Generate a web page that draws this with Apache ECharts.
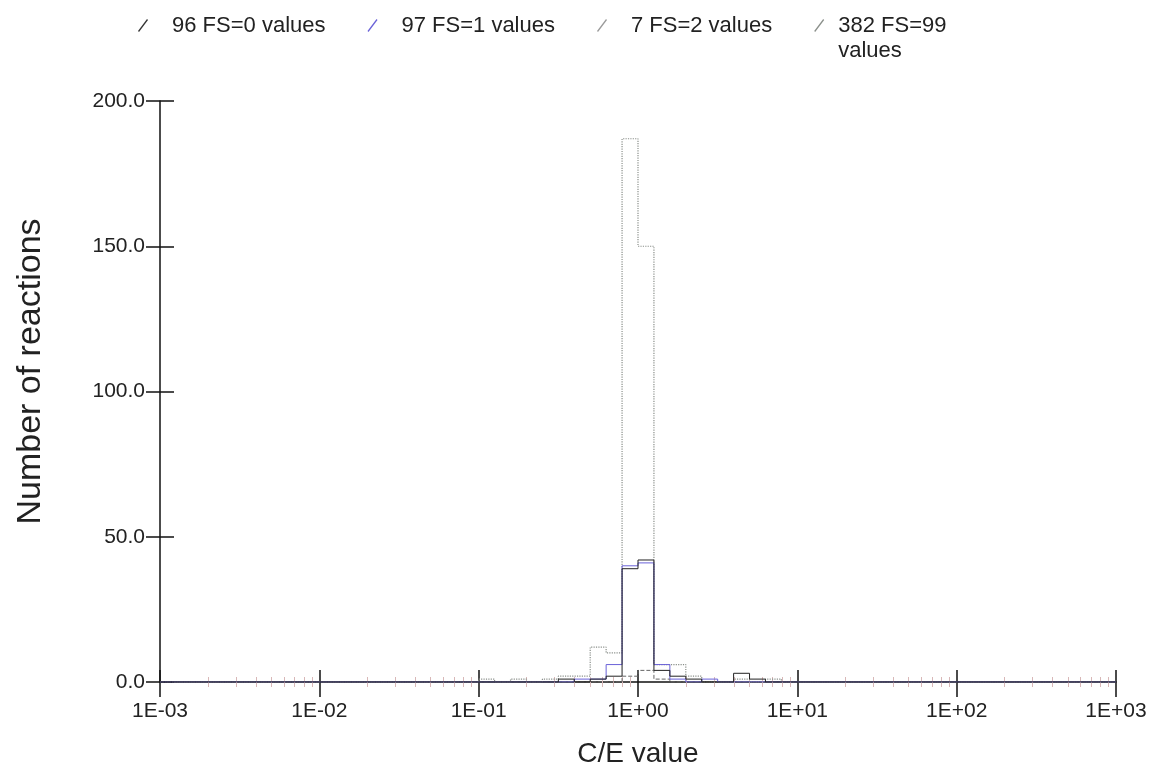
<!DOCTYPE html>
<html>
<head>
<meta charset="utf-8">
<script src="https://cdn.jsdelivr.net/npm/echarts@6/dist/echarts.min.js"></script>
<style>
  html, body { margin: 0; padding: 0; background: #fff; }
  #chart { width: 1152px; height: 776px; }
</style>
</head>
<body>
<div id="chart"></div>
<script>
// lower edge of each histogram bin, as log10(C/E)
const binStarts = [-1.0, -0.9, -0.8, -0.7, -0.6, -0.5, -0.4, -0.3, -0.2, -0.1,
                   0.0, 0.1, 0.2, 0.3, 0.4, 0.5, 0.6, 0.7, 0.8, 0.9]
const binEnd = 1.0
// counts per bin for each series
const fs0 = [0, 0, 0, 0, 0, 1, 0, 1, 2, 39, 42, 4, 2, 1, 0, 0, 3, 1, 0, 0]
const fs1 = [0, 0, 0, 0, 0, 0, 1, 1, 6, 40, 41, 6, 1, 0, 1, 0, 0, 0, 0, 0]
const fs2 = [0, 0, 0, 0, 0, 0, 0, 0, 0, 2, 4, 1, 0, 0, 0, 0, 0, 0, 0, 0]
const fs99 = [1, 0, 1, 0, 1, 2, 2, 12, 10, 187, 150, 6, 6, 2, 0, 0, 1, 0, 1, 0]
const seriesNames = ['96 FS=0 values', '97 FS=1 values', '7 FS=2 values', '382 FS=99 values']
const majorTicks = [0.001, 0.01, 0.1, 1, 10, 100, 1000]

const minorTicks = []
majorTicks.slice(0, -1).forEach(function (d) {
  for (let k = 2; k <= 9; k++) minorTicks.push(+(d * k).toPrecision(3))
})

const font = "'Liberation Sans', Arial, Helvetica, sans-serif"

// histogram counts -> step line points
function steps(counts) {
  const pts = [[0.001, 0]]
  binStarts.forEach(function (b, i) {
    pts.push([Math.pow(10, b), counts[i]])
  })
  pts.push([Math.pow(10, binEnd), 0])
  pts.push([1000, 0])
  return pts
}

function expLabel(v) {
  const e = Math.round(Math.log10(v))
  return '1E' + (e < 0 ? '-' : '+') + String(Math.abs(e)).padStart(2, '0')
}

function xAxisBase(extra) {
  return Object.assign({
    type: 'log',
    logBase: 10,
    min: 0.001,
    max: 1000,
    position: 'bottom',
    splitLine: { show: false },
    axisLine: { show: false },
    axisLabel: { show: false }
  }, extra)
}

const slash = 'path://M0,12L9,0L10,1L1,13Z'

const myChart = echarts.init(document.getElementById('chart'))
myChart.setOption({
  animation: false,
  backgroundColor: '#fff',
  textStyle: { fontFamily: font },
  legend: {
    left: 133,
    top: -17,
    icon: slash,
    itemWidth: 20,
    itemHeight: 13,
    itemGap: 42,
    textStyle: { fontSize: 22, color: '#222', fontFamily: font, lineHeight: 25, padding: [0, 0, 0, 14] },
    formatter: function (name) {
      // last entry wraps, first line level with its icon
      return name === '382 FS=99 values' ? '\n382 FS=99\nvalues' : name
    },
    data: [
      { name: seriesNames[0] },
      { name: seriesNames[1] },
      { name: seriesNames[2] },
      { name: seriesNames[3], textStyle: { padding: [0, 0, 0, 4] } }
    ]
  },
  grid: { left: 160, right: 36, top: 101, bottom: 94 },
  xAxis: [
    xAxisBase({
      name: 'C/E value',
      nameLocation: 'middle',
      nameGap: 58,
      nameTextStyle: { fontSize: 28, color: '#222', fontFamily: font },
      axisLine: { show: true, onZero: false, lineStyle: { color: '#111', width: 1.5 } },
      axisTick: { show: true, customValues: majorTicks, length: 15, lineStyle: { color: '#111', width: 1.5 } },
      axisLabel: { show: true, customValues: majorTicks, formatter: expLabel, margin: 19, fontSize: 21, color: '#222', fontFamily: font }
    }),
    xAxisBase({
      axisTick: { show: true, inside: true, customValues: majorTicks, length: 12, lineStyle: { color: '#111', width: 1.5 } }
    }),
    xAxisBase({
      axisTick: { show: true, customValues: minorTicks, length: 5, lineStyle: { color: '#d8b8b8', width: 1 } }
    }),
    xAxisBase({
      axisTick: { show: true, inside: true, customValues: minorTicks, length: 5, lineStyle: { color: '#d8b8b8', width: 1 } }
    })
  ],
  yAxis: [
    {
      type: 'value',
      min: 0,
      max: 200,
      interval: 50,
      position: 'left',
      name: 'Number of reactions',
      nameLocation: 'middle',
      nameGap: 112,
      nameTextStyle: { fontSize: 34, color: '#222', fontFamily: font, padding: [0, 0, 0, 40] },
      splitLine: { show: false },
      axisLine: { show: true, lineStyle: { color: '#111', width: 1.5 } },
      axisTick: { show: true, length: 14, lineStyle: { color: '#111', width: 1.5 } },
      axisLabel: {
        margin: 15, fontSize: 21, color: '#222', fontFamily: font,
        formatter: function (v) { return v.toFixed(1) }
      }
    },
    {
      type: 'value',
      min: 0,
      max: 200,
      interval: 50,
      position: 'left',
      splitLine: { show: false },
      axisLine: { show: false },
      axisLabel: { show: false },
      axisTick: { show: true, inside: true, length: 14, lineStyle: { color: '#111', width: 1.5 } }
    }
  ],
  series: [
    {
      name: seriesNames[3],
      type: 'line',
      step: 'end',
      symbol: 'none',
      color: '#8a8f8a',
      lineStyle: { width: 1.2, type: 'dotted', color: '#8a8f8a' },
      data: steps(fs99)
    },
    {
      name: seriesNames[2],
      type: 'line',
      step: 'end',
      symbol: 'none',
      color: '#9a9a9a',
      lineStyle: { width: 1, type: 'dashed', color: '#666' },
      data: steps(fs2)
    },
    {
      name: seriesNames[1],
      type: 'line',
      step: 'end',
      symbol: 'none',
      color: '#6a62d8',
      lineStyle: { width: 1, color: '#6a62d8' },
      data: steps(fs1)
    },
    {
      name: seriesNames[0],
      type: 'line',
      step: 'end',
      symbol: 'none',
      color: '#333',
      lineStyle: { width: 1, color: '#222' },
      data: steps(fs0)
    }
  ]
})
</script>
</body>
</html>
